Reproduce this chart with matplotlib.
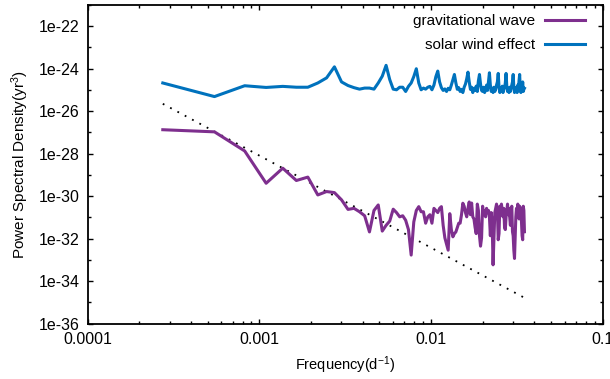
import numpy as np
import matplotlib
matplotlib.use("Agg")
import matplotlib.pyplot as plt
from matplotlib.ticker import FixedLocator, LogLocator, NullFormatter, FixedFormatter

plt.rcParams['font.family'] = ['Liberation Sans', 'DejaVu Sans']
plt.rcParams['mathtext.fontset'] = 'custom'
plt.rcParams['mathtext.rm'] = 'Liberation Sans'
plt.rcParams['mathtext.it'] = 'Liberation Sans:italic'

# ---- data ----
obs_span_days = 3652.5
harmonic = np.arange(1, 129)
freq = harmonic / obs_span_days  # d^-1

# log10 of PSD (yr^3)
gw_log = [
    -26.87, -26.97, -27.87, -29.39, -28.68, -29.26, -29.10, -29.94, -29.78, -29.83,
    -30.17, -30.62, -30.57, -30.73, -30.92, -31.68, -30.67, -30.41, -31.64, -31.37,
    -31.17, -30.61, -30.77, -30.97, -30.92, -31.13, -31.57, -32.77, -31.21, -30.67,
    -30.49, -30.73, -30.73, -31.27, -30.97, -30.87, -31.27, -30.57, -30.67, -30.77,
    -30.57, -30.49, -31.37, -31.96, -32.25, -32.54, -30.82, -31.57, -31.91, -31.76,
    -31.68, -31.47, -31.27, -31.27, -30.87, -30.33, -30.47, -30.77, -30.97, -30.57,
    -30.27, -30.87, -30.32, -30.97, -31.07, -31.47, -31.76, -30.37, -30.67, -31.86,
    -32.35, -31.96, -30.47, -30.87, -30.67, -30.97, -30.57, -30.77, -30.67, -30.97,
    -31.86, -30.77, -31.27, -33.23, -32.05, -30.77, -30.57, -30.37, -30.67, -32.05,
    -31.76, -30.47, -30.87, -30.37, -30.67, -30.97, -30.57, -31.47, -31.57, -30.97,
    -30.67, -30.37, -30.87, -30.57, -30.97, -31.37, -30.67, -30.47, -31.67, -31.86,
    -32.54, -32.93, -31.96, -30.97, -30.57, -30.97, -30.37, -30.67, -31.07, -30.47,
    -30.77, -30.57, -31.27, -31.86, -32.05, -30.47, -30.67, -31.67,
]

sw_log = [
    -24.67, -25.31, -24.80, -24.88, -24.83, -24.87, -24.87, -24.67, -24.43, -23.91,
    -24.62, -24.79, -24.89, -24.96, -24.91, -24.91, -24.96, -24.67, -24.35, -23.84,
    -24.51, -24.96, -24.99, -24.87, -24.87, -25.07, -24.83, -24.67, -24.37, -24.00,
    -24.67, -24.99, -24.91, -24.96, -24.87, -24.83, -24.99, -24.77, -24.37, -24.11,
    -24.62, -24.89, -25.02, -24.95, -25.07, -24.92, -24.99, -24.77, -24.52, -24.27,
    -24.67, -24.97, -24.89, -25.07, -24.97, -25.12, -24.87, -24.72, -24.47, -24.16,
    -24.62, -24.97, -24.87, -25.12, -24.92, -25.02, -24.82, -25.07, -24.57, -24.27,
    -24.72, -25.02, -25.07, -24.87, -25.12, -24.97, -24.77, -25.02, -24.62, -24.19,
    -24.77, -25.07, -24.92, -25.12, -24.87, -25.07, -24.97, -24.77, -24.62, -24.22,
    -24.87, -25.12, -24.92, -25.07, -24.82, -25.12, -24.97, -24.87, -24.67, -24.22,
    -24.82, -25.07, -24.97, -25.12, -24.87, -25.07, -24.92, -24.77, -24.62, -24.27,
    -24.87, -25.12, -24.97, -25.07, -24.87, -25.12, -24.77, -25.02, -24.57, -24.27,
    -24.92, -25.12, -24.87, -25.02, -24.62, -25.07, -24.97, -24.92,
]

# power-law reference line: log10 P = a + slope * log10(f / f1)
model_log_amp = -25.65
model_slope = -13.0 / 3.0

gw_psd = 10.0 ** np.array(gw_log)
sw_psd = 10.0 ** np.array(sw_log)
model_psd = 10.0 ** (model_log_amp + model_slope * np.log10(freq / freq[0]))

xticks = [1e-4, 1e-3, 1e-2, 1e-1]
xtick_labels = ['0.0001', '0.001', '0.01', '0.1']
ytick_exps = [-36, -34, -32, -30, -28, -26, -24, -22]

purple = '#7E2F8E'
blue = '#0072BD'

fig = plt.figure(figsize=(6.10, 3.79), dpi=100)
ax = fig.add_axes([0.1438, 0.1459, 0.9879 - 0.1438, 0.9868 - 0.1459])

ax.plot(freq, gw_psd, color=purple, lw=2.2, label='gravitational wave', zorder=3)
ax.plot(freq, sw_psd, color=blue, lw=2.2, label='solar wind effect', zorder=3)
ax.plot(freq, model_psd, color='black', lw=1.3, linestyle=(0, (1, 3.6)), zorder=2)

ax.set_xscale('log')
ax.set_yscale('log')
ax.set_xlim(1e-4, 1e-1)
ax.set_ylim(1e-36, 1e-21)

ax.xaxis.set_major_locator(FixedLocator(xticks))
ax.xaxis.set_major_formatter(FixedFormatter(xtick_labels))
ax.xaxis.set_minor_locator(LogLocator(base=10, subs=np.arange(2, 10), numticks=20))
ax.xaxis.set_minor_formatter(NullFormatter())

ax.yaxis.set_major_locator(FixedLocator([10.0 ** e for e in ytick_exps]))
ax.yaxis.set_major_formatter(FixedFormatter(['1e%d' % e for e in ytick_exps]))
ax.yaxis.set_minor_locator(FixedLocator([10.0 ** e for e in range(-35, -20, 2)]))
ax.yaxis.set_minor_formatter(NullFormatter())

ax.tick_params(which='both', direction='in', top=True, right=True, width=1.0, labelsize=11.5)
ax.tick_params(which='major', length=3.5)
ax.tick_params(which='minor', length=2)
ax.tick_params(axis='x', which='major', pad=6)
ax.tick_params(axis='y', which='major', pad=6)
for s in ax.spines.values():
    s.set_linewidth(1.3)

ax.set_xlabel('Frequency(d$^{-1}$)', fontsize=10.5, labelpad=5)
ax.set_ylabel('Power Spectral Density(yr$^{3}$)', fontsize=11, labelpad=5)

leg = ax.legend(loc='upper right', frameon=False, markerfirst=False, fontsize=11,
                handlelength=2.6, handletextpad=0.65, labelspacing=0.68,
                borderpad=0, borderaxespad=0, bbox_to_anchor=(0.966, 0.972))

fig.savefig('out.png', dpi=100)
